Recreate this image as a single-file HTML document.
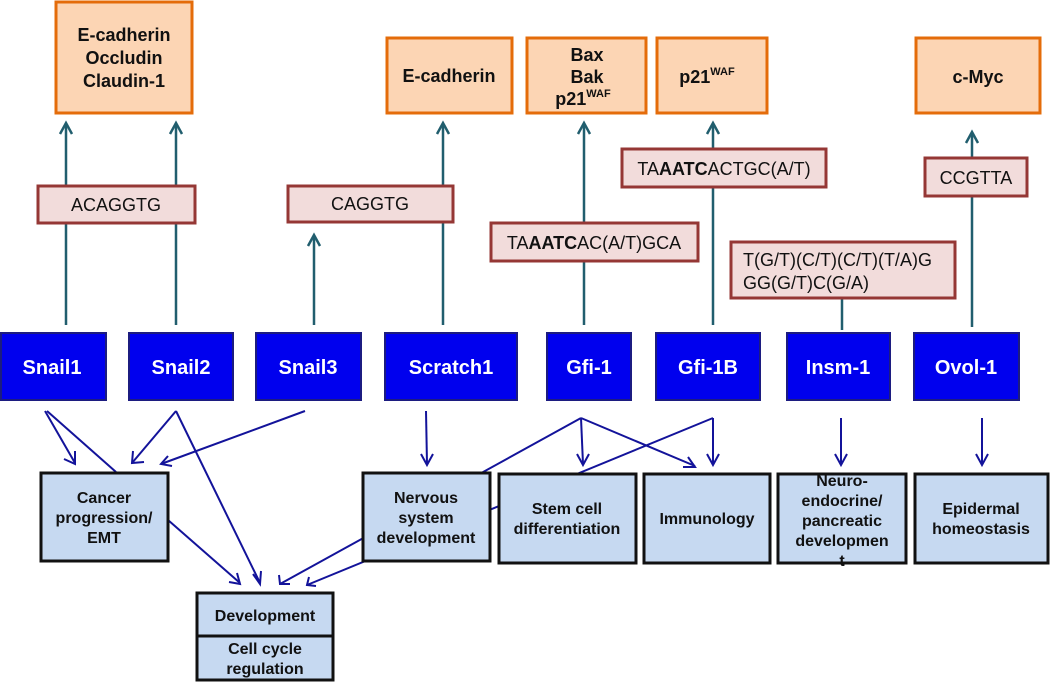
<!DOCTYPE html>
<html><head><meta charset="utf-8"><style>
body{margin:0;background:#fff}
svg{display:block;font-family:"Liberation Sans",Arial,sans-serif}
.o{fill:#fcd5b4;stroke:#e46c0a;stroke-width:3}
.m{fill:#f2dcdb;stroke:#953735;stroke-width:3}
.b{fill:#0000ee;stroke:#1c1c80;stroke-width:2}
.l{fill:#c6d9f1;stroke:#111;stroke-width:3}
.t{stroke:#215e6e;stroke-width:2.5;fill:none}
.n{stroke:#13139a;stroke-width:2;fill:none}
.ot{font-weight:bold;font-size:18px;fill:#111;text-anchor:middle}
.mt{font-size:18px;fill:#111;text-anchor:middle}
.bt{font-weight:bold;font-size:20px;fill:#fff;text-anchor:middle}
.lt{font-weight:bold;font-size:16px;fill:#111;text-anchor:middle}
</style></head><body>
<svg width="1050" height="682" viewBox="0 0 1050 682">
<g class="n">
<line x1="581" y1="418" x2="280" y2="584"/>
<line x1="713" y1="418" x2="307" y2="585"/>
<line x1="47" y1="411" x2="116" y2="472"/>
<line x1="45" y1="411" x2="75" y2="463"/><polyline points="64,459 75,464 75,451"/>
<line x1="176" y1="411" x2="132" y2="463"/><polyline points="133,451 132,463 144,462"/>
<line x1="176" y1="411" x2="260" y2="583"/><polyline points="253,574 260,584 261,571"/>
<line x1="305" y1="411" x2="161" y2="464"/><polyline points="168,456 161,464 172,466"/>
<line x1="168" y1="520" x2="240" y2="583"/><polyline points="229,582 240,584 237,573"/>
<polyline points="279,575 280,584 290,584"/>
<polyline points="309,577 307,585 316,586"/>
<line x1="426" y1="411" x2="427" y2="464"/><polyline points="421,454 427,465 433,454"/>
<line x1="581" y1="418" x2="583" y2="464"/><polyline points="577,454 583,465 589,454"/>
<line x1="581" y1="418" x2="695" y2="466"/><polyline points="683,467 695,467 688,457"/>
<line x1="713" y1="418" x2="713" y2="464"/><polyline points="707,454 713,465 719,454"/>
<line x1="841" y1="418" x2="841" y2="464"/><polyline points="835,454 841,465 847,454"/>
<line x1="982" y1="418" x2="982" y2="464"/><polyline points="976,454 982,465 988,454"/>
</g>
<g class="t">
<line x1="66" y1="325" x2="66" y2="124"/><polyline points="60,134 66,123 72,134"/>
<line x1="176" y1="325" x2="176" y2="124"/><polyline points="170,134 176,123 182,134"/>
<line x1="314" y1="325" x2="314" y2="236"/><polyline points="308,246 314,235 320,246"/>
<line x1="443" y1="325" x2="443" y2="124"/><polyline points="437,134 443,123 449,134"/>
<line x1="584" y1="325" x2="584" y2="124"/><polyline points="578,134 584,123 590,134"/>
<line x1="713" y1="325" x2="713" y2="124"/><polyline points="707,134 713,123 719,134"/>
<line x1="842" y1="298" x2="842" y2="330"/>
<line x1="972" y1="327" x2="972" y2="133"/><polyline points="966,143 972,132 978,143"/>
</g>
<rect class="o" x="56" y="2" width="136" height="111"/>
<text class="ot" x="124" y="41">E-cadherin</text><text class="ot" x="124" y="64">Occludin</text><text class="ot" x="124" y="87">Claudin-1</text>
<rect class="o" x="387" y="38" width="125" height="75"/><text class="ot" x="449" y="82">E-cadherin</text>
<rect class="o" x="527" y="38" width="119" height="75"/>
<text class="ot" x="587" y="61">Bax</text><text class="ot" x="587" y="83">Bak</text><text class="ot" x="583" y="105">p21<tspan font-size="11" dy="-8">WAF</tspan></text>
<rect class="o" x="657" y="38" width="110" height="75"/><text class="ot" x="707" y="83">p21<tspan font-size="11" dy="-8">WAF</tspan></text>
<rect class="o" x="916" y="38" width="124" height="75"/><text class="ot" x="978" y="83">c-Myc</text>
<rect class="m" x="38" y="186" width="157" height="37"/><text class="mt" x="116" y="211">ACAGGTG</text>
<rect class="m" x="288" y="186" width="165" height="36"/><text class="mt" x="370" y="210">CAGGTG</text>
<rect class="m" x="491" y="223" width="207" height="38"/><text class="mt" x="594" y="249">TA<tspan font-weight="bold">AATC</tspan>AC(A/T)GCA</text>
<rect class="m" x="622" y="149" width="204" height="38"/><text class="mt" x="724" y="175">TA<tspan font-weight="bold">AATC</tspan>ACTGC(A/T)</text>
<rect class="m" x="731" y="242" width="224" height="56"/><text class="mt" x="743" y="266" style="text-anchor:start">T(G/T)(C/T)(C/T)(T/A)G</text><text class="mt" x="743" y="289" style="text-anchor:start">GG(G/T)C(G/A)</text>
<rect class="m" x="925" y="158" width="102" height="38"/><text class="mt" x="976" y="184">CCGTTA</text>
<rect class="b" x="1" y="333" width="105" height="67"/><text class="bt" x="52" y="374">Snail1</text>
<rect class="b" x="129" y="333" width="104" height="67"/><text class="bt" x="181" y="374">Snail2</text>
<rect class="b" x="256" y="333" width="105" height="67"/><text class="bt" x="308" y="374">Snail3</text>
<rect class="b" x="385" y="333" width="132" height="67"/><text class="bt" x="451" y="374">Scratch1</text>
<rect class="b" x="547" y="333" width="84" height="67"/><text class="bt" x="589" y="374">Gfi-1</text>
<rect class="b" x="656" y="333" width="104" height="67"/><text class="bt" x="708" y="374">Gfi-1B</text>
<rect class="b" x="787" y="333" width="103" height="67"/><text class="bt" x="838" y="374">Insm-1</text>
<rect class="b" x="914" y="333" width="105" height="67"/><text class="bt" x="966" y="374">Ovol-1</text>
<rect class="l" x="41" y="473" width="127" height="88"/>
<text class="lt" x="104" y="503">Cancer</text><text class="lt" x="104" y="523">progression/</text><text class="lt" x="104" y="543">EMT</text>
<rect class="l" x="363" y="473" width="127" height="88"/>
<text class="lt" x="426" y="503">Nervous</text><text class="lt" x="426" y="523">system</text><text class="lt" x="426" y="543">development</text>
<rect class="l" x="499" y="474" width="137" height="89"/>
<text class="lt" x="567" y="514">Stem cell</text><text class="lt" x="567" y="534">differentiation</text>
<rect class="l" x="644" y="474" width="126" height="89"/><text class="lt" x="707" y="524">Immunology</text>
<rect class="l" x="778" y="474" width="128" height="89"/>
<text class="lt" x="842" y="486">Neuro-</text><text class="lt" x="842" y="506">endocrine/</text><text class="lt" x="842" y="526">pancreatic</text><text class="lt" x="842" y="546">developmen</text><text class="lt" x="842" y="566">t</text>
<rect class="l" x="915" y="474" width="133" height="89"/>
<text class="lt" x="981" y="514">Epidermal</text><text class="lt" x="981" y="534">homeostasis</text>
<rect class="l" x="197" y="593" width="136" height="43"/><text class="lt" x="265" y="621">Development</text>
<rect class="l" x="197" y="636" width="136" height="44"/>
<text class="lt" x="265" y="654">Cell cycle</text><text class="lt" x="265" y="674">regulation</text>
</svg>
</body></html>
